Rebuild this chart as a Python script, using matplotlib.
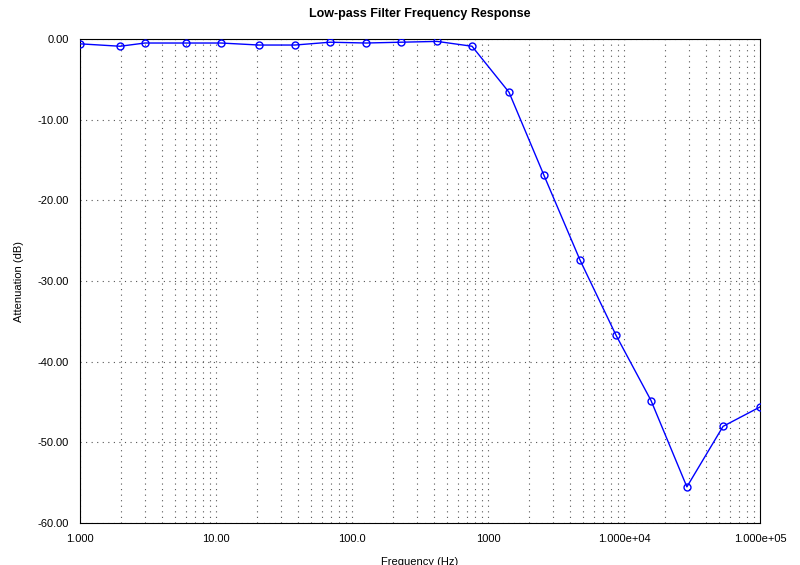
import matplotlib
matplotlib.use("Agg")
import matplotlib.pyplot as plt
from matplotlib.ticker import FixedLocator, FixedFormatter, LogLocator, NullFormatter

plt.rcParams['font.family'] = ['Liberation Sans', 'DejaVu Sans']

freq = [1, 1.97, 3.0, 6.0, 10.9, 20.7, 38, 69, 127, 229, 422, 763, 1427, 2580, 4750, 8730, 15800, 29000, 53500, 100000]
atten = [-0.6, -0.9, -0.5, -0.5, -0.5, -0.75, -0.75, -0.4, -0.5, -0.4, -0.3, -0.9, -6.6, -16.9, -27.4, -36.7, -44.8, -55.5, -48.0, -45.6]
xticks = [1, 10, 100, 1000, 1e4, 1e5]
xlabels = ["1.000", "10.00", "100.0", "1000", "1.000e+04", "1.000e+05"]
yticks = [0, -10, -20, -30, -40, -50, -60]
ylabels = ["0.00", "-10.00", "-20.00", "-30.00", "-40.00", "-50.00", "-60.00"]

fig = plt.figure(figsize=(8, 5.65), dpi=100)
ax = fig.add_axes([0.1, 0.074, 0.85, 0.857])
ax.plot(freq, atten, color='blue', lw=1, marker='o', mfc='none', mec='blue', ms=5, zorder=3)
ax.set_xscale('log')
ax.set_xlim(1, 1e5)
ax.set_ylim(-60, 0)
ax.xaxis.set_major_locator(FixedLocator(xticks))
ax.xaxis.set_major_formatter(FixedFormatter(xlabels))
ax.xaxis.set_minor_locator(LogLocator(base=10, subs=range(2, 10)))
ax.xaxis.set_minor_formatter(NullFormatter())
ax.set_yticks(yticks)
ax.set_yticklabels(ylabels)
gs = dict(color='#555555', linestyle=(0, (1, 4)), lw=0.8)
ax.grid(True, which='both', axis='x', **gs)
ax.grid(True, which='major', axis='y', **gs)
ax.tick_params(labelsize=8, direction='in', which='both', length=0, pad=8)
ax.set_xlabel('Frequency (Hz)', fontsize=8, labelpad=9)
ax.set_ylabel('Attenuation (dB)', fontsize=8, labelpad=10)
ax.set_title('Low-pass Filter Frequency Response', fontsize=9, fontweight='bold', pad=16)
fig.savefig('out.png', dpi=100)
